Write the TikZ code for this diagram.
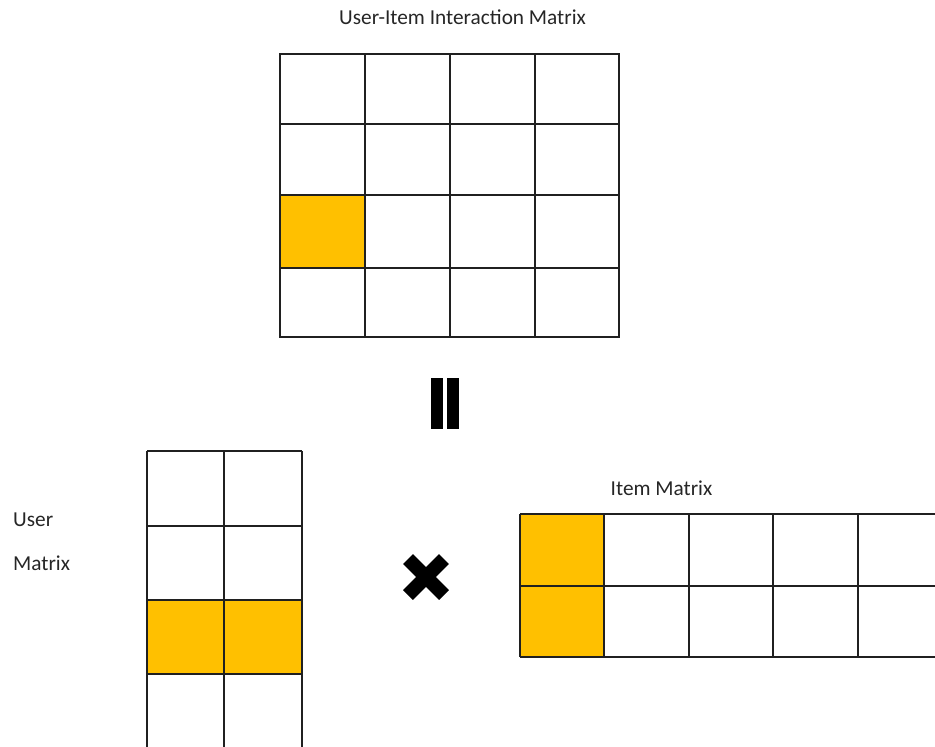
\documentclass[tikz,border=0pt]{standalone}
\usepackage{fontspec}
\setmainfont{Carlito}
\usetikzlibrary{calc}
\definecolor{hl}{HTML}{FFC000}
\definecolor{gridc}{HTML}{202020}
\begin{document}
\begin{tikzpicture}[x=1pt,y=-1pt,
  gridline/.style={draw=gridc,line width=1.1pt},
  hlcell/.style={fill=hl},
  lbl/.style={font=\fontsize{21.3}{24}\selectfont,inner sep=0pt,text=black!85},
  opbar/.style={fill=black},
  crossarm/.style={draw=black,line width=14pt,line cap=butt}]
\useasboundingbox (0,0) rectangle (935,747);
% Top matrix
\fill[hlcell] (280,195) rectangle (365,268);
\draw[gridline] (280,54) rectangle (619,337);
\foreach \x in {365,450,535} \draw[gridline] (\x,54) -- (\x,337);
\foreach \y in {124,195,268} \draw[gridline] (280,\y) -- (619,\y);
\node[lbl] (ttl) at (462.5,17) {User-Item Interaction Matrix};
% equals
\fill[opbar] (431,378) rectangle (443,429);
\fill[opbar] (447,378) rectangle (459,429);
% User matrix
\fill[hlcell] (147,600) rectangle (302,674);
\foreach \x in {147,224,302} \draw[gridline] (\x,451) -- (\x,747);
\foreach \y in {451,526,600,674} \draw[gridline] (147,\y) -- (302,\y);
\node[lbl,anchor=west] (u1) at (13,520) {User};
\node[lbl,anchor=west] (u2) at (13,563) {Matrix};
% cross
\coordinate (xc) at (426,577);
\draw[crossarm] ($(xc)+(-18,-18)$) -- ($(xc)+(18,18)$);
\draw[crossarm] ($(xc)+(-18,18)$) -- ($(xc)+(18,-18)$);
% Item matrix
\fill[hlcell] (520,514) rectangle (604,657);
\foreach \x in {520,604,689,773,858} \draw[gridline] (\x,514) -- (\x,657);
\foreach \y in {514,586,657} \draw[gridline] (520,\y) -- (935,\y);
\node[lbl] (it) at (661.5,488) {Item Matrix};
\end{tikzpicture}
\end{document}
